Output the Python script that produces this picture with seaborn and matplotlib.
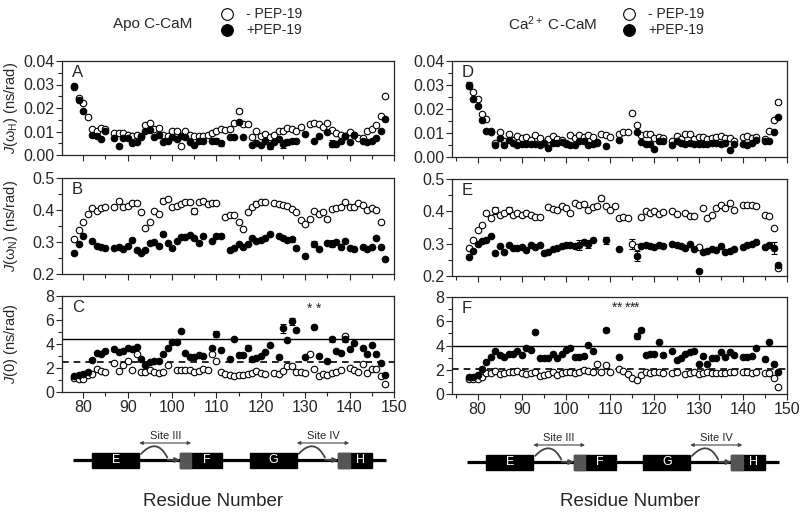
import numpy as np
import matplotlib
matplotlib.use("Agg")
import matplotlib.pyplot as plt
import seaborn as sns
from matplotlib.patches import Rectangle, FancyArrowPatch
from matplotlib.ticker import MultipleLocator, FormatStrFormatter

nan = np.nan

# Residue numbers (C-domain of calmodulin)
residues = np.arange(78, 149)

# ---------------- Apo C-CaM ----------------
# J(wH), free (-PEP-19) and bound (+PEP-19)
jh_apo_free = [0.0290, 0.0244, 0.0223, 0.0161, 0.0111, 0.0101, 0.0114, 0.0111, nan, 0.0093,
               0.0093, 0.0093, 0.0083, 0.0080, 0.0083, 0.0078, 0.0126, 0.0137, 0.0110, 0.0116,
               0.0087, 0.0080, 0.0104, 0.0101, 0.0040, 0.0101, 0.0087, 0.0079, 0.0080, 0.0080,
               0.0085, 0.0093, 0.0104, 0.0109, 0.0107, 0.0110, 0.0136, 0.0187, 0.0133, 0.0133,
               0.0076, 0.0101, 0.0080, 0.0090, 0.0075, 0.0085, 0.0104, 0.0101, 0.0114, 0.0110,
               0.0101, 0.0119, nan, 0.0133, 0.0136, 0.0130, 0.0119, 0.0136, 0.0107, 0.0093,
               0.0087, 0.0079, 0.0097, 0.0087, 0.0071, 0.0071, 0.0104, 0.0111, 0.0126, 0.0166,
               0.0251]
jh_apo_bound = [0.0294, 0.0233, 0.0187, nan, 0.0086, 0.0080, 0.0069, 0.0101, nan, 0.0071,
                0.0040, 0.0071, 0.0071, 0.0050, 0.0057, 0.0079, 0.0101, 0.0107, 0.0076, 0.0083,
                0.0054, 0.0061, 0.0076, 0.0069, 0.0080, 0.0076, 0.0054, 0.0043, 0.0061, 0.0061,
                nan, 0.0061, 0.0061, 0.0050, nan, 0.0076, 0.0076, 0.0140, 0.0076, nan,
                0.0044, 0.0050, 0.0044, 0.0061, 0.0040, 0.0054, 0.0069, 0.0047, 0.0054, 0.0061,
                0.0061, nan, 0.0090, nan, 0.0061, 0.0079, nan, 0.0097, 0.0047, 0.0047,
                0.0061, 0.0079, 0.0054, 0.0087, nan, 0.0061, 0.0054, 0.0061, 0.0073, 0.0104,
                0.0154]
# J(wN)
jn_apo_free = [0.308, 0.337, 0.363, 0.389, 0.405, 0.398, 0.407, 0.410, nan, 0.410,
               0.428, 0.410, 0.414, 0.421, 0.421, 0.395, 0.344, 0.363, 0.398, 0.386,
               0.429, 0.434, 0.408, 0.414, 0.419, 0.424, 0.424, 0.397, 0.424, 0.428,
               0.419, 0.421, 0.421, nan, 0.379, 0.384, 0.384, 0.363, 0.340, 0.395,
               0.410, 0.419, 0.424, 0.424, nan, 0.421, 0.418, 0.416, 0.414, 0.402,
               0.395, 0.368, 0.355, 0.372, 0.398, 0.389, 0.395, 0.372, 0.403, 0.405,
               0.408, 0.424, 0.410, 0.410, 0.421, 0.416, 0.400, 0.407, 0.400, 0.361,
               nan]
jn_apo_bound = [0.266, 0.293, 0.319, nan, 0.302, 0.286, 0.284, 0.282, nan, 0.281,
                0.284, 0.279, 0.286, 0.305, 0.276, 0.265, 0.276, 0.297, 0.300, 0.287,
                0.324, 0.298, 0.282, 0.302, 0.316, 0.316, 0.321, 0.313, 0.298, 0.319,
                nan, 0.303, 0.319, 0.319, nan, 0.274, 0.282, 0.293, 0.284, 0.295,
                0.311, 0.302, 0.307, 0.314, 0.326, nan, 0.319, 0.313, 0.307, 0.308,
                0.282, nan, 0.256, nan, 0.293, 0.277, nan, 0.298, 0.295, 0.300,
                0.284, 0.302, 0.281, 0.279, nan, 0.284, 0.277, 0.284, 0.314, 0.284,
                0.247]
# J(0)
j0_apo_free = [1.20, 1.10, 1.10, 1.40, 1.50, 1.90, 1.75, 1.70, nan, 2.45,
               1.75, 2.25, 2.60, 1.85, 3.20, 1.70, 1.65, 1.80, 1.70, 1.55,
               1.70, 2.25, nan, 1.80, 1.80, 1.80, 1.80, 1.65, 1.75, 1.90,
               1.85, 3.20, 2.55, 1.65, 1.50, 1.40, 1.35, 1.40, 1.45, 1.50,
               1.55, 1.75, 1.55, 1.50, nan, 1.55, 1.50, 1.75, 2.20, 2.20,
               1.70, 1.65, 1.60, 3.20, 1.95, 1.30, 1.50, 1.40, 1.60, 1.70,
               1.80, 4.70, 2.00, 1.85, 1.65, 2.30, 1.55, 1.90, 1.90, 1.35,
               0.65]
j0_apo_bound = [1.30, 1.40, 1.50, 1.70, 2.70, 3.25, 3.15, 3.45, nan, 3.55,
                3.30, 3.45, 3.70, 3.60, 3.75, 2.75, 2.25, 2.50, 2.55, 2.55,
                3.20, 3.70, 4.15, 4.20, 5.05, 3.25, 2.95, 2.95, 3.10, 3.00,
                nan, 3.70, 4.80, 3.50, nan, 2.75, 4.40, 3.05, 3.05, 3.70,
                2.75, 2.85, 3.00, 3.35, 3.95, nan, 2.90, 5.30, 4.30, 5.90,
                5.20, nan, 2.90, nan, 5.40, 3.00, nan, 2.60, 4.40, 3.45,
                3.25, 4.40, 3.55, 4.10, nan, 3.70, 3.15, 3.95, 3.15, 2.40,
                1.45]

# ---------------- Ca2+ C-CaM ----------------
jh_ca_free = [0.0300, 0.0270, 0.0240, 0.0180, 0.0160, 0.0110, 0.0060, 0.0103, 0.0065, 0.0097,
              0.0069, 0.0086, 0.0079, 0.0083, 0.0069, 0.0092, 0.0079, 0.0060, 0.0076, 0.0086,
              0.0076, 0.0069, 0.0060, 0.0092, 0.0079, 0.0092, 0.0083, 0.0090, 0.0083, 0.0060,
              0.0094, 0.0090, 0.0083, nan, 0.0097, 0.0103, 0.0103, 0.0183, 0.0134, 0.0090,
              0.0097, 0.0097, 0.0080, 0.0083, 0.0078, nan, 0.0065, 0.0088, 0.0075, 0.0097,
              0.0097, 0.0075, 0.0082, 0.0082, 0.0075, 0.0080, 0.0082, 0.0086, 0.0078, 0.0078,
              0.0068, nan, 0.0082, 0.0086, 0.0079, 0.0082, nan, 0.0076, 0.0110, 0.0155,
              0.0230]
jh_ca_bound = [0.0297, 0.0241, 0.0214, 0.0154, 0.0110, 0.0106, 0.0048, 0.0079, 0.0048, 0.0072,
               0.0059, 0.0050, 0.0055, 0.0055, 0.0055, 0.0055, 0.0052, 0.0058, 0.0037, 0.0058,
               0.0060, 0.0062, 0.0055, 0.0050, 0.0050, 0.0065, 0.0068, 0.0050, 0.0056, 0.0062,
               nan, 0.0045, nan, nan, 0.0070, nan, nan, nan, 0.0105, 0.0062,
               0.0055, 0.0055, 0.0035, 0.0065, 0.0065, nan, 0.0050, 0.0066, 0.0060, 0.0055,
               0.0060, 0.0055, 0.0055, 0.0055, 0.0055, 0.0058, 0.0060, 0.0055, 0.0060, 0.0030,
               0.0055, nan, 0.0055, 0.0050, 0.0060, 0.0070, nan, 0.0065, 0.0065, 0.0105,
               0.0165]
jn_ca_free = [0.288, 0.311, 0.342, 0.358, 0.394, 0.378, 0.403, 0.390, 0.395, 0.403,
              0.390, 0.395, 0.390, 0.395, 0.388, 0.383, 0.383, nan, 0.412, 0.408,
              0.405, 0.415, 0.410, 0.395, 0.425, 0.420, 0.423, 0.405, 0.413, 0.418,
              0.440, 0.418, 0.405, 0.415, 0.380, 0.383, 0.380, 0.298, 0.290, 0.383,
              0.400, 0.395, 0.400, 0.393, 0.398, nan, 0.400, 0.393, nan, 0.395,
              0.385, 0.385, 0.290, 0.410, 0.380, 0.390, 0.410, 0.420, 0.410, 0.425,
              0.405, nan, 0.420, 0.420, 0.420, 0.418, nan, 0.390, 0.385, 0.350,
              0.225]
jn_ca_bound = [0.258, 0.277, 0.300, 0.307, 0.312, 0.325, 0.272, 0.292, 0.275, 0.297,
               0.288, 0.286, 0.291, 0.281, 0.297, 0.289, 0.296, 0.271, 0.275, 0.282,
               0.287, 0.292, 0.297, 0.296, 0.294, 0.296, 0.306, 0.298, 0.310, nan,
               nan, 0.310, nan, nan, 0.283, nan, nan, nan, 0.262, 0.293,
               0.295, 0.292, 0.289, 0.295, 0.292, nan, 0.298, 0.296, 0.294, 0.287,
               0.300, 0.282, 0.215, 0.274, 0.276, 0.282, 0.280, 0.292, 0.274, 0.278,
               0.282, nan, 0.290, 0.295, 0.298, 0.306, nan, 0.290, 0.297, 0.287,
               0.235]
j0_ca_free = [1.23, 1.20, 1.20, 1.43, 1.77, 1.71, 1.86, 1.63, 1.71, 1.80,
              1.80, 1.86, 1.71, 1.63, 1.77, 1.85, 1.45, 1.60, 1.65, 1.80,
              1.60, 1.70, 1.80, 1.85, 1.75, 1.85, 1.95, 1.90, 1.85, 2.45,
              1.85, 2.40, 1.80, nan, 2.10, 1.90, 1.65, 1.30, 1.15, 1.60,
              1.85, 1.75, 1.85, 1.80, 1.75, nan, 1.75, 1.80, nan, 1.65,
              1.75, 1.80, 1.65, 1.70, 1.80, 1.75, 1.70, 1.70, 1.70, 1.80,
              1.80, nan, 1.80, 1.80, 1.75, 1.80, nan, 1.70, 1.75, 1.30,
              0.60]
j0_ca_bound = [1.43, 1.37, 1.57, 2.09, 2.63, 3.06, 3.57, 3.20, 3.09, 3.29,
               3.29, 3.57, 3.20, 3.80, 3.63, 5.14, 3.00, 3.00, 3.00, 3.29,
               3.00, 3.34, 3.66, 3.80, 3.06, 3.06, 3.14, 4.06, 3.57, nan,
               nan, 5.29, nan, nan, 3.06, nan, nan, nan, 4.80, 5.29,
               3.20, 3.29, 3.29, 4.29, 3.20, nan, 3.57, 2.77, 2.94, 3.29,
               3.49, 3.57, 2.51, 3.14, 2.51, 3.00, 3.00, 3.49, 3.06, 3.49,
               3.20, nan, 3.06, 3.06, 3.14, 3.77, nan, 2.86, 4.29, 2.51,
               1.80]

# error bars that stick out of the markers: (residues, errors)
err_jh_apo_free = ([115, 117, 121, 129], [0.0008, 0.0008, 0.0006, 0.0006])
err_jh_apo_bound = ([110, 111, 122, 125, 126, 136], [0.0012, 0.0010, 0.0015, 0.0018, 0.0012, 0.0015])
err_jn_apo_free = ([98, 105, 119, 135], [0.008, 0.008, 0.008, 0.007])
err_jn_apo_bound = ([98, 111, 127, 128, 132, 136, 146], [0.006, 0.007, 0.007, 0.006, 0.010, 0.010, 0.006])
err_j0_apo_free = ([], [])
err_j0_apo_bound = ([110, 117, 125, 127, 136, 139], [0.25, 0.20, 0.35, 0.30, 0.20, 0.25])
err_jh_ca_free = ([78, 80, 101, 148], [0.0012, 0.0008, 0.0006, 0.0008])
err_jh_ca_bound = ([], [])
err_jn_ca_free = ([84, 87, 108, 115], [0.010, 0.010, 0.008, 0.015])
err_jn_ca_bound = ([103, 105, 109, 116, 147], [0.015, 0.012, 0.010, 0.015, 0.018])
err_j0_ca_free = ([], [])
err_j0_ca_bound = ([93, 109, 116, 117, 121], [0.15, 0.15, 0.25, 0.15, 0.12])

# reference lines in J(0) panels (solid, dashed)
j0_lines_apo = [4.4, 2.5]
j0_lines_ca = [4.0, 2.05]

# significance asterisks (residue positions)
stars_apo = [131, 133]
stars_ca = [111, 112, 114, 115, 116]

# helices of the domain diagram: name, start, end, grey (Ca loop) part end
helices = [("E", 82.0, 92.6, None), ("F", 101.8, 111.2, 104.3),
           ("G", 117.5, 128.1, None), ("H", 137.4, 145.0, 140.0)]

sns.set_style("ticks")
plt.rcParams['font.family'] = ['Liberation Sans', 'DejaVu Sans']
plt.rcParams['mathtext.fontset'] = 'custom'
plt.rcParams['mathtext.rm'] = 'Liberation Sans'
plt.rcParams['mathtext.it'] = 'Liberation Sans:italic'
plt.rcParams['axes.linewidth'] = 0.9

fig = plt.figure(figsize=(8, 5.14), dpi=100)
W, H = 800.0, 514.0


def box(x0, x1, top, bottom):
    return [x0 / W, 1 - bottom / H, (x1 - x0) / W, (bottom - top) / H]


def draw_panel(ax, free, bound, err_free, err_bound, xlim, ylim, major, minor, fmt, letter, labels=False):
    free = np.array(free)
    bound = np.array(bound)
    for vals, err in [(free, err_free), (bound, err_bound)]:
        if len(err[0]) > 0:
            m = np.isin(residues, err[0])
            ax.errorbar(residues[m], vals[m], yerr=err[1], fmt='none', ecolor='black',
                        elinewidth=0.8, capsize=2.5, capthick=0.8, zorder=2)
    sns.scatterplot(x=residues, y=free, ax=ax, s=22, color='white', edgecolor='black',
                    linewidth=0.8, zorder=3, label='- PEP-19' if labels else None)
    sns.scatterplot(x=residues, y=bound, ax=ax, s=22, color='black', edgecolor='black',
                    linewidth=0.8, zorder=4, label='+PEP-19' if labels else None)
    ax.set_xlim(xlim)
    ax.set_ylim(ylim)
    ax.xaxis.set_major_locator(MultipleLocator(10))
    ax.xaxis.set_minor_locator(MultipleLocator(5))
    ax.yaxis.set_major_locator(MultipleLocator(major))
    ax.yaxis.set_minor_locator(MultipleLocator(minor))
    ax.yaxis.set_major_formatter(FormatStrFormatter(fmt))
    ax.tick_params(which='major', direction='out', length=4, width=0.8, labelsize=11.5, pad=1.5)
    ax.tick_params(which='minor', direction='out', length=3, width=0.8)
    ax.text(0.03, 0.96, letter, transform=ax.transAxes, ha='left', va='top', fontsize=12)


def draw_domains(dax, xlim):
    dax.set_xlim(xlim)
    dax.set_ylim(0, 1)
    dax.axis('off')
    dax.plot([77.6, 148.2], [0.3, 0.3], color='black', lw=2.3, solid_capstyle='butt', zorder=1)
    for name, start, end, grey_end in helices:
        dax.add_patch(Rectangle((start, 0.15), end - start, 0.3, color='black', zorder=2))
        cx = (start + end) / 2
        if grey_end is not None:
            dax.add_patch(Rectangle((start, 0.15), grey_end - start, 0.3, color='#555555', zorder=3))
            cx = (grey_end + end) / 2
        dax.text(cx, 0.3, name, color='white', ha='center', va='center', fontsize=9, zorder=4)
    # Ca-binding loops: hump then arrow into the next helix
    for a, b, lab in [(92.6, 101.8, "Site III"), (128.1, 137.4, "Site IV")]:
        dax.add_patch(FancyArrowPatch((a, 0.38), (a + 6.6, 0.30), connectionstyle='arc3,rad=-0.8',
                                      arrowstyle='-', color='#444444', lw=1.3, zorder=1))
        dax.annotate('', xy=(b, 0.30), xytext=(a + 6.4, 0.30),
                     arrowprops=dict(arrowstyle='-|>', color='#444444', lw=1.3,
                                     mutation_scale=7, shrinkA=0, shrinkB=0))
        dax.annotate('', xy=(b + 2.5, 0.64), xytext=(a, 0.64),
                     arrowprops=dict(arrowstyle='<|-|>', color='#444444', lw=0.8,
                                     mutation_scale=5, shrinkA=0, shrinkB=0))
        dax.text((a + b + 2.5) / 2, 0.78, lab, ha='center', va='center', fontsize=8)


xlim_apo = (75.2, 150)
xlim_ca = (74.2, 150)

# left column: apo
axA = fig.add_axes(box(62, 394, 61, 155))
axB = fig.add_axes(box(62, 394, 178, 274))
axC = fig.add_axes(box(62, 394, 296, 392))
draw_panel(axA, jh_apo_free, jh_apo_bound, err_jh_apo_free, err_jh_apo_bound, xlim_apo, (0, 0.04), 0.01, 0.005, '%.2f', 'A', labels=True)
draw_panel(axB, jn_apo_free, jn_apo_bound, err_jn_apo_free, err_jn_apo_bound, xlim_apo, (0.2, 0.5), 0.1, 0.05, '%.1f', 'B')
draw_panel(axC, j0_apo_free, j0_apo_bound, err_j0_apo_free, err_j0_apo_bound, xlim_apo, (0, 8), 2, 1, '%d', 'C')

# right column: Ca2+
axD = fig.add_axes(box(452, 787, 61, 157))
axE = fig.add_axes(box(452, 787, 179, 276))
axF = fig.add_axes(box(452, 787, 297, 394))
draw_panel(axD, jh_ca_free, jh_ca_bound, err_jh_ca_free, err_jh_ca_bound, xlim_ca, (0, 0.04), 0.01, 0.005, '%.2f', 'D', labels=True)
draw_panel(axE, jn_ca_free, jn_ca_bound, err_jn_ca_free, err_jn_ca_bound, xlim_ca, (0.2, 0.5), 0.1, 0.05, '%.1f', 'E')
draw_panel(axF, j0_ca_free, j0_ca_bound, err_j0_ca_free, err_j0_ca_bound, xlim_ca, (0, 8), 2, 1, '%d', 'F')

for ax in [axA, axB, axD, axE]:
    ax.tick_params(labelbottom=False)

# reference lines and asterisks in J(0)
for ax, lines, stars, ys in [(axC, j0_lines_apo, stars_apo, 6.9), (axF, j0_lines_ca, stars_ca, 7.1)]:
    ax.axhline(lines[0], color='black', lw=1.0, zorder=1)
    ax.axhline(lines[1], color='black', lw=1.2, ls=(0, (4, 3)), zorder=1)
    for r in stars:
        ax.text(r, ys, '*', ha='center', va='center', fontsize=10)

# y labels, left column only
axA.set_ylabel(r'$J$(ω$_{\rm H}$) (ns/rad)', fontsize=10.5)
axB.set_ylabel(r'$J$(ω$_{\rm N}$) (ns/rad)', fontsize=10.5)
axC.set_ylabel(r'$J$(0) (ns/rad)', fontsize=10.5)
for ax in [axA, axB, axC]:
    ax.yaxis.set_label_coords(-0.125, 0.5)

# legends and titles on top
for ax, x_leg, title, x_title in [(axA, 221, 'Apo C-CaM', 153), (axD, 623, r'Ca$^{2+}$ C-CaM', 553)]:
    handles, labs = ax.get_legend_handles_labels()
    ax.legend(handles, labs, loc='center left', bbox_to_anchor=(x_leg / W, 1 - 22 / H),
              bbox_transform=fig.transFigure, frameon=False, fontsize=10, markerscale=1.8,
              handlelength=0.8, handletextpad=1.0, labelspacing=0.15, borderpad=0, borderaxespad=0)
    fig.text(x_title / W, 1 - 24 / H, title, ha='center', va='center', fontsize=11)

# domain diagrams
draw_domains(fig.add_axes(box(62, 394, 425, 475)), xlim_apo)
draw_domains(fig.add_axes(box(452, 787, 427, 477)), xlim_ca)

fig.text(213 / W, 1 - 501 / H, 'Residue Number', ha='center', va='center', fontsize=13.5)
fig.text(630 / W, 1 - 502 / H, 'Residue Number', ha='center', va='center', fontsize=13.5)

plt.savefig('out.png', dpi=100)
